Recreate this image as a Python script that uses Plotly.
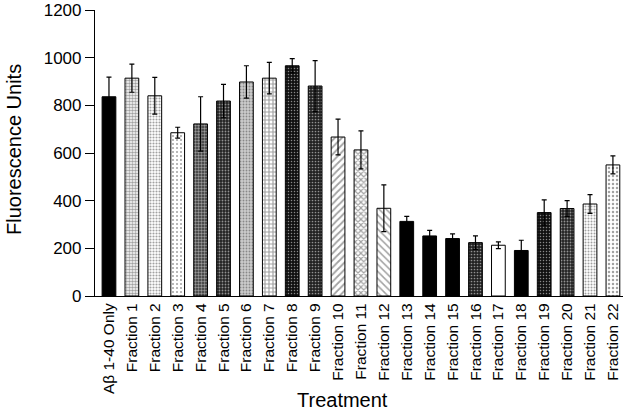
import plotly.graph_objects as go

categories = ["Aβ 1-40 Only"] + [f"Fraction {i}" for i in range(1, 23)]
values = [836, 914, 840, 685, 722, 818, 898, 914, 966, 881, 667, 613, 368,
          313, 252, 241, 224, 213, 191, 350, 367, 386, 550]
err_top = [918, 973, 917, 708, 836, 888, 966, 980, 996, 988, 742, 693, 466,
           334, 275, 261, 252, 227, 234, 403, 400, 425, 588]
errors = [t - v for t, v in zip(err_top, values)]
y_ticks = [0, 200, 400, 600, 800, 1000, 1200]

# styles per bar: (background, pattern shape, pattern colour, size, solidity)
styles = [
    ("#000000", "", "#000000", 6, 0.3),
    ("#ffffff", ".", "#000000", 3, 0.55),
    ("#ffffff", ".", "#000000", 3, 0.4),
    ("#ffffff", ".", "#000000", 4, 0.2),
    ("#333333", ".", "#000000", 3, 0.5),
    ("#222222", ".", "#666666", 3, 0.3),
    ("#cccccc", ".", "#555555", 3, 0.3),
    ("#ffffff", "+", "#000000", 4, 0.5),
    ("#111111", ".", "#555555", 3, 0.2),
    ("#222222", ".", "#777777", 3, 0.25),
    ("#ffffff", "/", "#000000", 5, 0.35),
    ("#ffffff", "x", "#000000", 4, 0.5),
    ("#ffffff", "\\", "#000000", 5, 0.3),
    ("#000000", "", "#000000", 6, 0.3),
    ("#000000", "", "#000000", 6, 0.3),
    ("#000000", "", "#000000", 6, 0.3),
    ("#222222", ".", "#888888", 3, 0.25),
    ("#ffffff", "", "#000000", 6, 0.3),
    ("#000000", "", "#000000", 6, 0.3),
    ("#111111", ".", "#666666", 3, 0.2),
    ("#222222", ".", "#999999", 3, 0.3),
    ("#ffffff", ".", "#000000", 3, 0.35),
    ("#ffffff", ".", "#000000", 4, 0.3),
]

L, R, T, B = 95, 0, 10, 117
W, H = 623, 413
pw = W - L - R

fig = go.Figure()
fig.add_trace(go.Bar(
    x=list(range(len(categories))),
    y=values,
    width=0.6,
    marker=dict(
        color=[s[0] for s in styles],
        line=dict(color="black", width=1),
        pattern=dict(
            shape=[s[1] for s in styles],
            fgcolor=[s[2] for s in styles],
            size=[s[3] for s in styles],
            solidity=[s[4] for s in styles],
            fillmode="overlay",
        ),
    ),
    error_y=dict(type="data", array=errors, visible=True, color="black",
                 thickness=1.2, width=2.5),
    showlegend=False,
))

fig.update_layout(
    width=W, height=H,
    margin=dict(l=L, r=R, t=T, b=B, autoexpand=False),
    plot_bgcolor="white", paper_bgcolor="white",
    font=dict(family="Liberation Sans, Arial, sans-serif", color="black"),
    xaxis=dict(
        range=[-0.61, 22.44],
        tickmode="array",
        tickvals=list(range(len(categories))),
        ticktext=categories,
        tickangle=-90,
        tickfont=dict(size=15.5),
        showline=True, linecolor="black", linewidth=1.2,
        ticks="", showgrid=False, zeroline=False,
        automargin=False,
    ),
    yaxis=dict(
        range=[0, 1200],
        tickvals=y_ticks,
        tickfont=dict(size=17),
        ticklabeloverflow="allow",
        showline=True, linecolor="black", linewidth=1.2,
        ticks="outside", ticklen=9, tickcolor="black", tickwidth=1.2,
        showgrid=False, zeroline=False,
        automargin=False,
    ),
    annotations=[
        dict(text="Treatment", xref="paper", yref="paper",
             x=(342 - L) / pw, y=-(400 - (H - B)) / (H - T - B),
             showarrow=False, font=dict(size=20),
             xanchor="center", yanchor="middle"),
        dict(text="Fluorescence Units", xref="paper", yref="paper",
             x=-(L - 14) / pw, y=(H - B - 150) / (H - T - B),
             textangle=-90, showarrow=False, font=dict(size=20),
             xanchor="center", yanchor="middle"),
    ],
)

fig.write_html("out.html",
               config={"displayModeBar": False},
               post_script="document.body.style.margin='0';"
                           "document.body.style.overflow='hidden';")
